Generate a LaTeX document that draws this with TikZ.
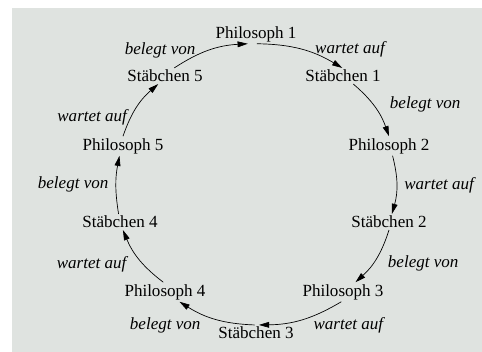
\documentclass[tikz,border=0pt]{standalone}
\usepackage{fontspec}
\setmainfont{Liberation Serif}
\usetikzlibrary{arrows.meta}
\definecolor{bggray}{RGB}{223,227,224}

\begin{document}
\begin{tikzpicture}[x=0.587pt, y=0.587pt,
    every node/.style = {inner sep = 1pt, font = \fontsize{10}{12}\selectfont},
    lbl/.style = {font = \fontsize{10}{12}\selectfont\itshape, inner sep = 2pt},
    link/.style = {-{Triangle[length=6pt, width=3.4pt]}, bend left = #1},
    link/.default = 15
    ]
    \useasboundingbox (0,0) rectangle (482,352);
    \fill[bggray] (12,0) rectangle (482,344);
    % Philosophen und Staebchen im Kreis
    \node (p1) at (256,318) {Philosoph 1};
    \node (s1) at (343,276) {Stäbchen 1};
    \node (p2) at (389,206) {Philosoph 2};
    \node (s2) at (389,130) {Stäbchen 2};
    \node (p3) at (343,60)  {Philosoph 3};
    \node (s3) at (256,19)  {Stäbchen 3};
    \node (p4) at (165,60)  {Philosoph 4};
    \node (s4) at (120,130) {Stäbchen 4};
    \node (p5) at (123,206) {Philosoph 5};
    \node (s5) at (165,276) {Stäbchen 5};
    % Kanten
    \draw[link] (p1.-85)  to node[lbl, anchor=west, xshift=5.9pt] {wartet auf} (s1.95);
    \draw[link] (s1.-38)  to node[lbl, anchor=west, xshift=6.5pt, yshift=1.5pt] {belegt von} (p2.north);
    \draw[link] (p2.-70)  to node[lbl, anchor=west, xshift=2.3pt] {wartet auf} (s2.70);
    \draw[link] (s2.south) to node[lbl, anchor=west, xshift=4.7pt, yshift=-3pt] {belegt von} (p3.38);
    \draw[link] (p3.-100) to node[lbl, anchor=west, xshift=4.7pt, yshift=-3.2pt] {wartet auf} (s3.70);
    \draw[link] (s3.100)  to node[lbl, anchor=east, xshift=-6.5pt, yshift=-3.5pt] {belegt von} (p4.-34);
    \draw[link] (p4.100)  to node[lbl, anchor=east, xshift=-5.3pt, yshift=-3pt] {wartet auf} (s4.-70);
    \draw[link=10] (s4.100) to node[lbl, anchor=east, xshift=-2.3pt] {belegt von} (p5.-110);
    \draw[link] (p5.north) to node[lbl, anchor=east, xshift=-3.5pt, yshift=-5.9pt] {wartet auf} (s5.-130);
    \draw[link] (s5.41)   to node[lbl, anchor=east, xshift=-5.9pt, yshift=0pt] {belegt von} (p1.-130);
\end{tikzpicture}
\end{document}
